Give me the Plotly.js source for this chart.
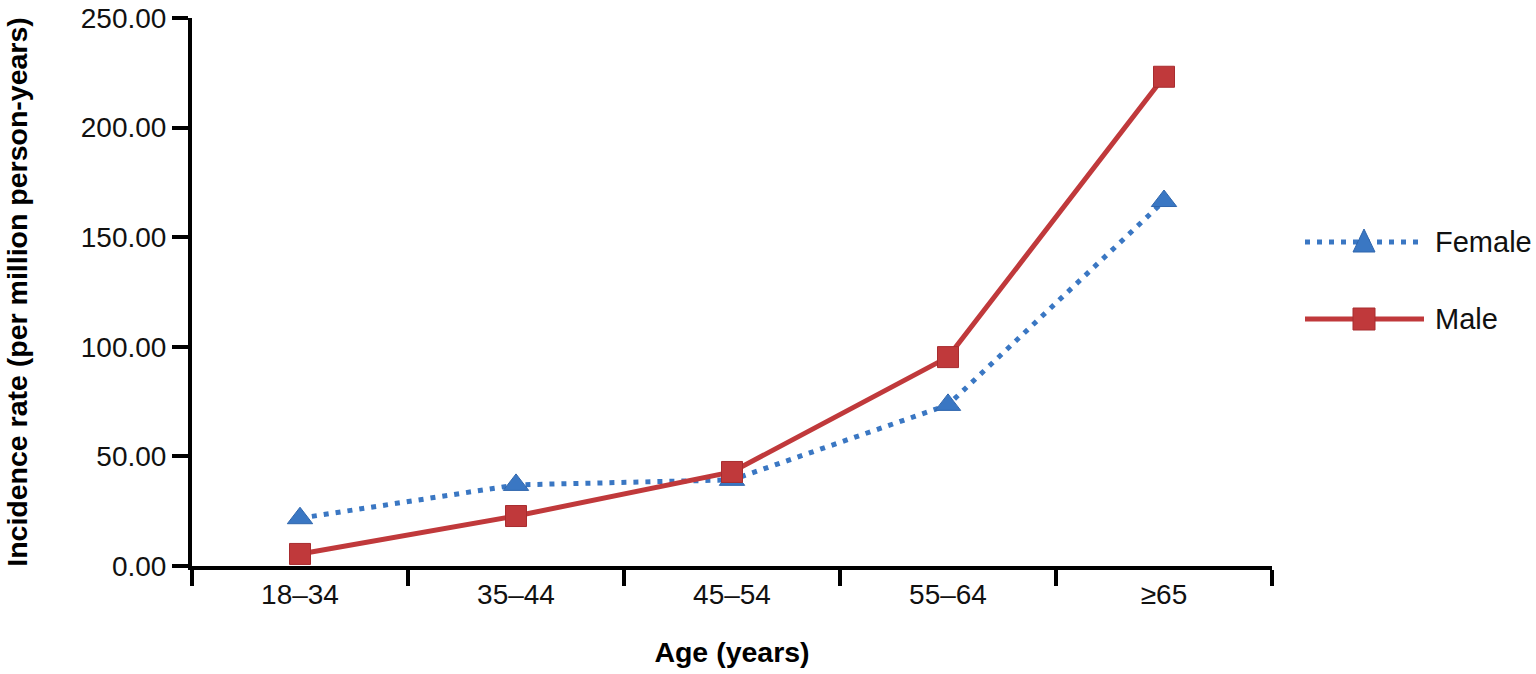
<!DOCTYPE html>
<html>
<head>
<meta charset="utf-8">
<script src="https://cdn.plot.ly/plotly-3.0.1.min.js"></script>
<style>html,body{margin:0;padding:0;background:#fff;}#chart{width:1536px;height:674px;}</style>
</head>
<body>
<div id="chart"></div>
<script>
const ageGroups = ["18–34", "35–44", "45–54", "55–64", "≥65"];
const femaleRates = [21.8, 37.0, 39.3, 73.5, 166.5];
const maleRates = [5.5, 22.8, 42.9, 95.3, 223.2];
const seriesNames = ["Female", "Male"];
const yTicks = [0, 50, 100, 150, 200, 250];

const BLUE = "#3a77c3";
const RED = "#c0393b";
const FONT = "Liberation Sans, Arial, sans-serif";

// plot area in pixels
const L = 192, R = 1272, T = 18, B = 566;
const W = 1536, H = 674;
function px2x(p){ return (p - L) / (R - L); }
function py2y(p){ return (B - p) / (B - T); }

const traces = [
  {
    x: ageGroups, y: femaleRates, name: seriesNames[0], type: "scatter", mode: "lines+markers",
    line: {color: BLUE, width: 5, dash: "5px,7px"},
    marker: {symbol: "triangle-up", size: 22, color: BLUE, line: {color: "#2f66ad", width: 1}},
    showlegend: false, cliponaxis: false
  },
  {
    x: ageGroups, y: maleRates, name: seriesNames[1], type: "scatter", mode: "lines+markers",
    line: {color: RED, width: 5},
    marker: {symbol: "square", size: 21, color: RED, line: {color: "#a82c2f", width: 1}},
    showlegend: false, cliponaxis: false
  }
];

// custom legend (line samples longer than Plotly's default)
const legRows = [
  {py: 242, name: seriesNames[0], color: BLUE},
  {py: 319, name: seriesNames[1], color: RED}
];
const shapes = [];
const annotations = [];
legRows.forEach((r, i) => {
  shapes.push({type: "line", xref: "paper", yref: "paper",
    x0: px2x(1305), x1: px2x(1424), y0: py2y(r.py), y1: py2y(r.py),
    line: {color: r.color, width: 5, dash: i === 0 ? "5px,7px" : "solid"}});
  const cx = 1364, cy = r.py;
  if (i === 0) {
    const p = `M${px2x(cx-11)},${py2y(cy+10)} L${px2x(cx+11)},${py2y(cy+10)} L${px2x(cx)},${py2y(cy-13)} Z`;
    shapes.push({type: "path", xref: "paper", yref: "paper", path: p,
      fillcolor: r.color, line: {color: "#2f66ad", width: 1}});
  } else {
    shapes.push({type: "rect", xref: "paper", yref: "paper",
      x0: px2x(cx-11), x1: px2x(cx+11), y0: py2y(cy+11), y1: py2y(cy-11),
      fillcolor: r.color, line: {color: "#a82c2f", width: 1}});
  }
  annotations.push({xref: "paper", yref: "paper", x: px2x(1433), y: py2y(r.py),
    xanchor: "left", yanchor: "middle", showarrow: false, text: r.name,
    font: {family: FONT, size: 29, color: "#111"}});
});

const layout = {
  width: W, height: H,
  margin: {l: L, r: W - R, t: T, b: H - B, pad: 0},
  paper_bgcolor: "#fff", plot_bgcolor: "#fff",
  showlegend: false,
  font: {family: FONT, color: "#111"},
  xaxis: {
    type: "category", range: [-0.5, 4.5],
    showline: true, linecolor: "#000", linewidth: 4,
    ticks: "outside", tickson: "boundaries", ticklen: 16, tickwidth: 4, tickcolor: "#000",
    showgrid: false, zeroline: false,
    tickfont: {family: FONT, size: 28, color: "#111"},
    title: {text: "<b>Age (years)</b>", font: {family: FONT, size: 28.5, color: "#000"}, standoff: 34}
  },
  yaxis: {
    range: [0, 250], tickvals: yTicks, tickformat: ".2f",
    showline: true, linecolor: "#000", linewidth: 4,
    ticks: "outside", ticklen: 16, tickwidth: 4, tickcolor: "#000",
    showgrid: false, zeroline: false,
    tickfont: {family: FONT, size: 28, color: "#111"},
    title: {text: "<b>Incidence rate (per million person-years)</b>", font: {family: FONT, size: 28.5, color: "#000"}, standoff: 46}
  },
  shapes: shapes,
  annotations: annotations
};

Plotly.newPlot("chart", traces, layout, {displayModeBar: false, staticPlot: true});
</script>
</body>
</html>
